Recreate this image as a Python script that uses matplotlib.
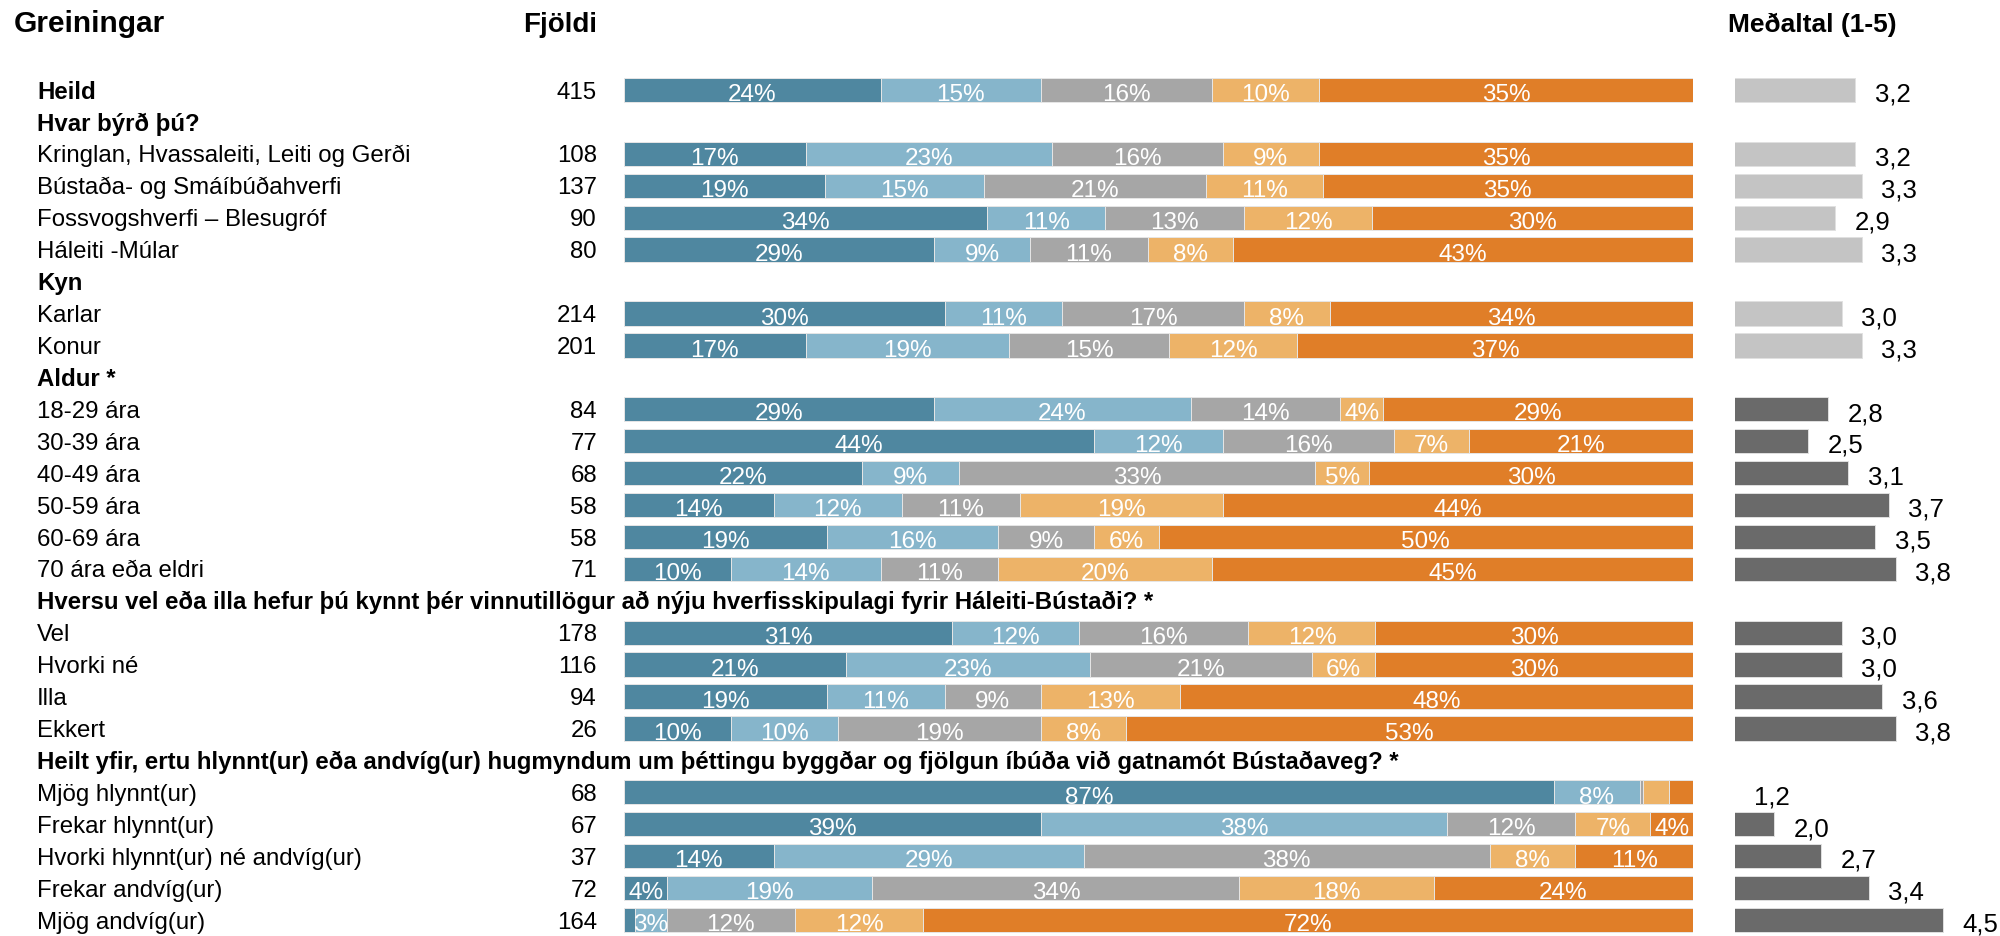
#!/usr/bin/env python

# Stacked 100% bars by group with counts on the left and mean score on the right

import numpy as np
from matplotlib import pyplot as plt
from matplotlib import transforms

plt.rcParams['font.family'] = ['Liberation Sans', 'DejaVu Sans']

# Rows, top to bottom. Section headers have no data (None)
labels = [
    "Heild",
    "Hvar býrð þú?",
    "Kringlan, Hvassaleiti, Leiti og Gerði",
    "Bústaða- og Smáíbúðahverfi",
    "Fossvogshverfi – Blesugróf",
    "Háleiti -Múlar",
    "Kyn",
    "Karlar",
    "Konur",
    "Aldur *",
    "18-29 ára",
    "30-39 ára",
    "40-49 ára",
    "50-59 ára",
    "60-69 ára",
    "70 ára eða eldri",
    "Hversu vel eða illa hefur þú kynnt þér vinnutillögur að nýju hverfisskipulagi fyrir Háleiti-Bústaði? *",
    "Vel",
    "Hvorki né",
    "Illa",
    "Ekkert",
    "Heilt yfir, ertu hlynnt(ur) eða andvíg(ur) hugmyndum um þéttingu byggðar og fjölgun íbúða við gatnamót Bústaðaveg? *",
    "Mjög hlynnt(ur)",
    "Frekar hlynnt(ur)",
    "Hvorki hlynnt(ur) né andvíg(ur)",
    "Frekar andvíg(ur)",
    "Mjög andvíg(ur)",
]
bold_rows = [0, 1, 6, 9, 16, 21]

counts = [415, None, 108, 137, 90, 80, None, 214, 201, None, 84, 77, 68, 58, 58, 71,
          None, 178, 116, 94, 26, None, 68, 67, 37, 72, 164]

# answer shares (%), five categories
shares = [
    [24, 15, 16, 10, 35],
    None,
    [17, 23, 16, 9, 35],
    [19, 15, 21, 11, 35],
    [34, 11, 13, 12, 30],
    [29, 9, 11, 8, 43],
    None,
    [30, 11, 17, 8, 34],
    [17, 19, 15, 12, 37],
    None,
    [29, 24, 14, 4, 29],
    [44, 12, 16, 7, 21],
    [22, 9, 33, 5, 30],
    [14, 12, 11, 19, 44],
    [19, 16, 9, 6, 50],
    [10, 14, 11, 20, 45],
    None,
    [31, 12, 16, 12, 30],
    [21, 23, 21, 6, 30],
    [19, 11, 9, 13, 48],
    [10, 10, 19, 8, 53],
    None,
    [87, 8, 0.3, 2.5, 2.2],
    [39, 38, 12, 7, 4],
    [14, 29, 38, 8, 11],
    [4, 19, 34, 18, 24],
    [1, 3, 12, 12, 72],
]

means = [3.2, None, 3.2, 3.3, 2.9, 3.3, None, 3.0, 3.3, None, 2.8, 2.5, 3.1, 3.7, 3.5, 3.8,
         None, 3.0, 3.0, 3.6, 3.8, None, 1.2, 2.0, 2.7, 3.4, 4.5]
significant = [False] * 9 + [True] * 18

colors = ["#4F87A0", "#86B5CB", "#A6A6A6", "#EDB368", "#E07E28"]
mean_light = "#C4C4C4"
mean_dark = "#6A6A6A"

W, H = 2000, 936
fig = plt.figure(figsize=(W / 100, H / 100), dpi=100)

n = len(labels)
ax_top = 74.0 / H
ax = fig.add_axes([624 / W, 0, (1693 - 624) / W, 1 - ax_top])
axm = fig.add_axes([1735 / W, 0, (2000 - 1735) / W, 1 - ax_top])

bar_h = 0.76
for a in (ax, axm):
    a.set_ylim(n - 0.5, -0.5)
    a.axis("off")
ax.set_xlim(0, 100)
mean_min = 1.42
axm.set_xlim(mean_min, mean_min + 265 / 67.5)

# stacked bars
for i, row in enumerate(shares):
    if row is None:
        continue
    vals = np.array(row, dtype=float)
    vals = vals / vals.sum() * 100
    left = 0
    for j, v in enumerate(vals):
        ax.barh(i, v, left=left, height=bar_h, color=colors[j],
                edgecolor="#E6E6E6", linewidth=0.7)
        if row[j] >= 3:
            ax.text(left + v / 2, i + 0.35, f"{round(row[j])}%", ha="center",
                    va="baseline", color="white", fontsize=17.5)
        left += v

# mean bars
for i, m in enumerate(means):
    if m is None:
        continue
    c = mean_dark if significant[i] else mean_light
    axm.barh(i, m, height=bar_h, color=c, edgecolor="#E0E0E0", linewidth=0.7)
    axm.annotate(f"{m:.1f}".replace(".", ","), xy=(max(m, mean_min), i + 0.37),
                 xytext=(14, 0), textcoords="offset points", ha="left", va="baseline",
                 fontsize=18.5, color="black", annotation_clip=False)

# left labels and counts
tr = transforms.blended_transform_factory(fig.transFigure, ax.transData)
for i, lab in enumerate(labels):
    weight = "bold" if i in bold_rows else "normal"
    ax.text(37 / W, i + 0.27, lab, transform=tr, ha="left", va="baseline",
            fontsize=17.3, fontweight=weight, color="black")
    if counts[i] is not None:
        ax.text(597 / W, i + 0.27, str(counts[i]), transform=tr, ha="right",
                va="baseline", fontsize=17.3, color="black")

# headers
fig.text(14 / W, 1 - 24 / H, "Greiningar", ha="left", va="center", fontsize=21.5, fontweight="bold")
fig.text(597 / W, 1 - 25 / H, "Fjöldi", ha="right", va="center", fontsize=20, fontweight="bold")
fig.text(1728 / W, 1 - 25 / H, "Meðaltal (1-5)", ha="left", va="center", fontsize=19, fontweight="bold")

plt.savefig("out.png", dpi=100)
